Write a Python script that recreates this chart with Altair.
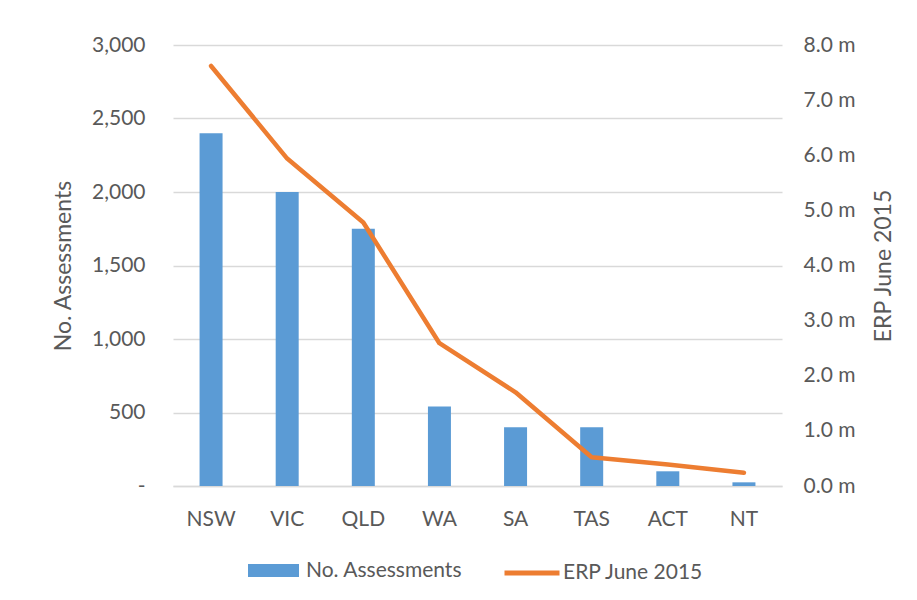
import altair as alt
import pandas as pd

states = ["NSW", "VIC", "QLD", "WA", "SA", "TAS", "ACT", "NT"]
assessments = [2400, 2000, 1750, 540, 400, 400, 100, 25]
erp_millions = [7.62, 5.94, 4.78, 2.59, 1.70, 0.52, 0.39, 0.24]

df = pd.DataFrame({"state": states, "assessments": assessments, "erp": erp_millions})

FONT = "Lato"
GREY = "#595959"

x = alt.X("state:N", sort=states, title=None,
          scale=alt.Scale(paddingInner=0, paddingOuter=0),
          axis=alt.Axis(labelAngle=0, ticks=False, domainColor="#d9d9d9", domainWidth=1.5,
                        labelPadding=22, labelFontSize=21, labelColor=GREY, labelFont=FONT))

bars = alt.Chart(df).transform_calculate(series="'No. Assessments'").mark_bar(size=23).encode(
    x=x,
    y=alt.Y("assessments:Q", title="No. Assessments",
            scale=alt.Scale(domain=[0, 3000]),
            axis=alt.Axis(values=[0, 500, 1000, 1500, 2000, 2500, 3000],
                          labelExpr="datum.value == 0 ? '-' : format(datum.value, ',')",
                          grid=True, gridColor="#d9d9d9", gridWidth=1.5, domain=False, ticks=False,
                          labelPadding=28, labelFontSize=21, labelColor=GREY, labelFont=FONT,
                          titleFontSize=23, titleFont=FONT, titleColor=GREY, titleFontWeight="normal",
                          titlePadding=16)),
    color=alt.Color("series:N", scale=alt.Scale(domain=["No. Assessments"], range=["#5b9bd5"]),
                    legend=alt.Legend(title=None, orient="none", direction="horizontal",
                                      legendX=75, legendY=500,
                                      symbolType="M-1,-0.255H1V0.255H-1Z", symbolSize=2601,
                                      symbolStrokeWidth=0, labelOffset=7)),
)

line = alt.Chart(df).transform_calculate(series="'ERP June 2015'").mark_line(
    strokeWidth=4.5, strokeCap="round", strokeJoin="round").encode(
    x=x,
    y=alt.Y("erp:Q", title="ERP June 2015",
            scale=alt.Scale(domain=[0, 8]),
            axis=alt.Axis(orient="right", values=[0, 1, 2, 3, 4, 5, 6, 7, 8],
                          labelExpr="format(datum.value, '.1f') + ' m'",
                          grid=False, domain=False, ticks=False,
                          labelPadding=21, labelFontSize=21, labelColor=GREY, labelFont=FONT,
                          titleFontSize=23, titleFont=FONT, titleColor=GREY, titleFontWeight="normal",
                          titleAngle=270, titleBaseline="top", titlePadding=18)),
    color=alt.Color("series:N", scale=alt.Scale(domain=["ERP June 2015"], range=["#ed7d31"]),
                    legend=alt.Legend(title=None, orient="none", direction="horizontal",
                                      legendX=329, legendY=498,
                                      symbolType="stroke", symbolSize=3025,
                                      symbolStrokeWidth=5, labelOffset=1)),
)

chart = alt.layer(bars, line).resolve_scale(y="independent", color="independent").properties(
    width=609, height=441,
    background="white",
    autosize=alt.AutoSizeParams(type="none"),
    padding={"left": 165, "top": 37, "right": 120, "bottom": 107},
).configure_view(stroke=None).configure_legend(
    labelFontSize=21, labelColor=GREY, labelFont=FONT, padding=0
)

chart.save("out.html", embed_options={"renderer": "svg", "actions": False})
